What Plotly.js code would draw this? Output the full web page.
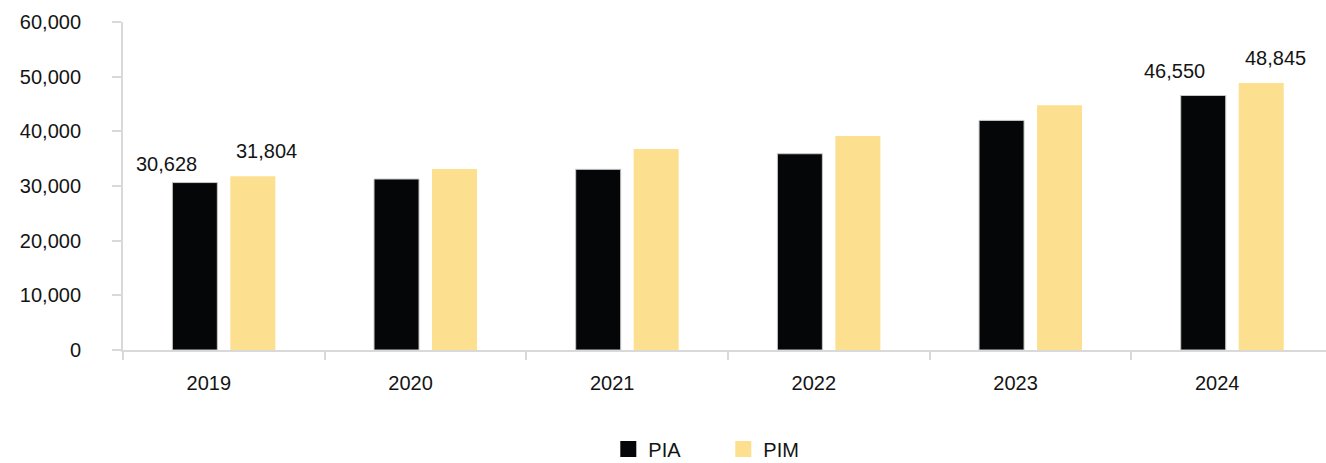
<!DOCTYPE html>
<html>
<head>
<meta charset="utf-8">
<script src="https://cdn.plot.ly/plotly-3.0.1.min.js"></script>
<style>html,body{margin:0;padding:0;background:#fff;}#chart{width:1326px;height:463px;}</style>
</head>
<body>
<div id="chart"></div>
<script>
const years = ['2019', '2020', '2021', '2022', '2023', '2024'];
const pia = [30628, 31280, 33050, 35900, 42000, 46550];
const pim = [31804, 33110, 36770, 39140, 44760, 48845];
const seriesNames = ['PIA', 'PIM'];
const labeledYears = ['2019', '2024'];

const colors = {PIA: '#050608', PIM: '#FCDF8F'};
const fontFam = '"Liberation Sans", Arial, sans-serif';
const txtColor = '#141414';

const traces = [
  {type: 'bar', x: years, y: pia, name: seriesNames[0], showlegend: false,
   marker: {color: colors.PIA, line: {color: '#c8c8c8', width: 1}}, hoverinfo: 'x+y'},
  {type: 'bar', x: years, y: pim, name: seriesNames[1], showlegend: false,
   marker: {color: colors.PIM, line: {width: 0}}, hoverinfo: 'x+y'},
  {type: 'scatter', mode: 'markers', x: [null], y: [null], name: seriesNames[0],
   marker: {symbol: 'square', size: 17, color: colors.PIA}},
  {type: 'scatter', mode: 'markers', x: [null], y: [null], name: seriesNames[1],
   marker: {symbol: 'square', size: 17, color: colors.PIM}}
];

const annotations = [];
labeledYears.forEach(function (yr) {
  const i = years.indexOf(yr);
  annotations.push({x: i, y: pia[i], xref: 'x', yref: 'y', text: pia[i].toLocaleString('en-US'),
    showarrow: false, xanchor: 'center', yanchor: 'bottom', xshift: -57.5, yshift: i === 0 ? 6 : 12,
    font: {family: fontFam, size: 20, color: txtColor}});
  annotations.push({x: i, y: pim[i], xref: 'x', yref: 'y', text: pim[i].toLocaleString('en-US'),
    showarrow: false, xanchor: 'center', yanchor: 'bottom', xshift: 43, yshift: 12,
    font: {family: fontFam, size: 20, color: txtColor}});
});

const layout = {
  width: 1326, height: 463,
  margin: {l: 123, r: 0, t: 22, b: 113, pad: 0, autoexpand: false},
  paper_bgcolor: '#ffffff', plot_bgcolor: '#ffffff',
  font: {family: fontFam, size: 20, color: txtColor},
  barmode: 'group', bargap: 0.425, bargroupgap: 0.224,
  xaxis: {
    type: 'category', range: [-0.5, 5.465], showgrid: false, zeroline: false,
    showline: true, linecolor: '#d9d9d9', linewidth: 2,
    ticks: 'outside', tickson: 'boundaries', ticklen: 8, tickcolor: '#d9d9d9', tickwidth: 2,
    ticklabelstandoff: 14, ticklabelshift: -15,
    tickfont: {family: fontFam, size: 20, color: txtColor}
  },
  yaxis: {
    range: [0, 60000], dtick: 10000, tickformat: ',', showgrid: false, zeroline: false,
    showline: true, linecolor: '#d9d9d9', linewidth: 2,
    ticks: 'outside', ticklen: 9, tickcolor: '#d9d9d9', tickwidth: 2,
    ticklabelstandoff: 27,
    tickfont: {family: fontFam, size: 20, color: txtColor}
  },
  showlegend: true,
  legend: {
    orientation: 'h', x: 0.499, xanchor: 'center', y: -0.302, yanchor: 'middle',
    font: {family: fontFam, size: 20, color: txtColor},
    entrywidth: 70, entrywidthmode: 'pixels', itemwidth: 30
  },
  annotations: annotations
};

Plotly.newPlot('chart', traces, layout, {displayModeBar: false, staticPlot: true});
</script>
</body>
</html>
